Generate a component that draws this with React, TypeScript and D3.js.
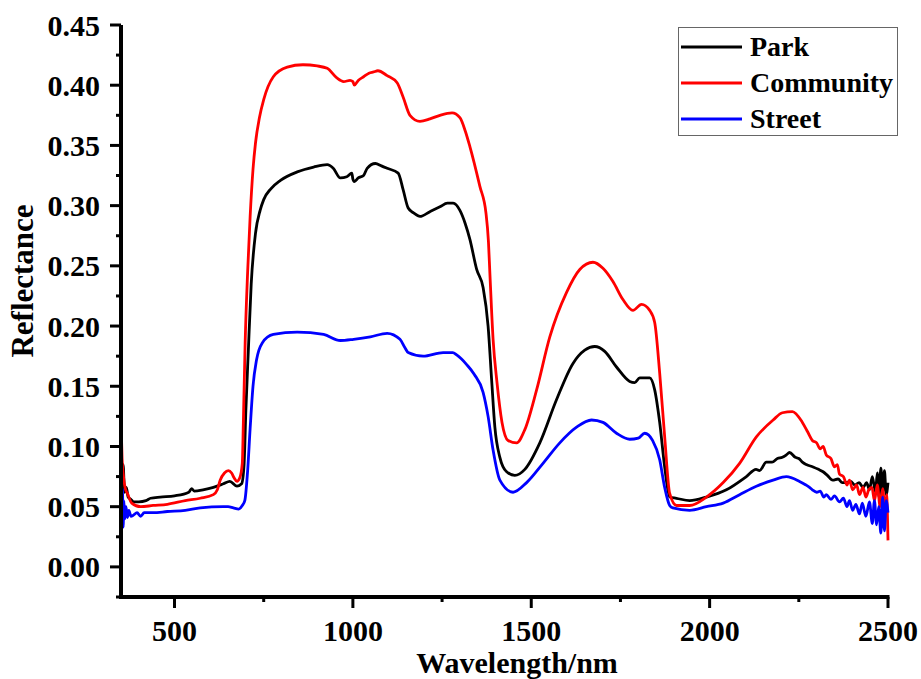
import React from "react";
import * as d3 from "d3";

const xTicks = [500, 1000, 1500, 2000, 2500];
const xMinorTicks = [750, 1250, 1750, 2250];
const yTicks = [0, 0.05, 0.1, 0.15, 0.2, 0.25, 0.3, 0.35, 0.4, 0.45];
const yMinorTicks = [-0.025, 0.025, 0.075, 0.125, 0.175, 0.225, 0.275, 0.325, 0.375, 0.425];

const seriesNames = ["Park", "Community", "Street"];
const seriesColors = ["#000000", "#ff0000", "#0000ff"];

const park: [number, number][] = [
  [350, 0.092], [353, 0.07], [356, 0.085], [360, 0.062], [365, 0.066], [370, 0.058], [378, 0.056], [385, 0.054],
  [400, 0.054], [420, 0.055], [433, 0.057], [460, 0.058], [500, 0.059], [540, 0.062], [548, 0.065], [555, 0.063],
  [580, 0.064], [609, 0.066], [637, 0.069], [655, 0.071], [675, 0.067], [688, 0.069], [695, 0.085], [700, 0.13],
  [707, 0.18], [715, 0.235], [727, 0.277], [740, 0.296], [750, 0.305], [770, 0.314], [797, 0.321], [844, 0.328],
  [890, 0.332], [928, 0.334], [945, 0.331], [965, 0.323], [983, 0.324], [997, 0.327], [1000, 0.322], [1004, 0.32],
  [1015, 0.323], [1030, 0.325], [1040, 0.331], [1063, 0.335], [1080, 0.333], [1096, 0.331], [1127, 0.327],
  [1141, 0.313], [1155, 0.298], [1170, 0.294], [1188, 0.291], [1216, 0.295], [1244, 0.299], [1265, 0.302],
  [1281, 0.302], [1300, 0.296], [1315, 0.285], [1328, 0.272], [1347, 0.247], [1365, 0.232], [1379, 0.2],
  [1389, 0.155], [1398, 0.116], [1412, 0.091], [1431, 0.079], [1454, 0.076], [1482, 0.081], [1524, 0.103],
  [1571, 0.139], [1617, 0.169], [1650, 0.18], [1678, 0.183], [1706, 0.179], [1739, 0.166], [1776, 0.154],
  [1790, 0.153], [1804, 0.157], [1832, 0.157], [1846, 0.147], [1860, 0.12], [1874, 0.083], [1888, 0.058],
  [1907, 0.057], [1944, 0.055], [1991, 0.058], [2047, 0.064], [2103, 0.075], [2130, 0.081], [2140, 0.08],
  [2159, 0.087], [2175, 0.087], [2190, 0.09], [2204, 0.091], [2215, 0.093], [2224, 0.095], [2240, 0.091],
  [2250, 0.09], [2260, 0.087], [2271, 0.085], [2290, 0.083], [2305, 0.081], [2318, 0.079], [2330, 0.076],
  [2345, 0.072], [2360, 0.073], [2372, 0.07], [2383, 0.07], [2395, 0.071], [2407, 0.068], [2419, 0.07],
  [2430, 0.066], [2440, 0.07], [2448, 0.064], [2456, 0.075], [2465, 0.062], [2470, 0.078], [2475, 0.058],
  [2480, 0.082], [2485, 0.062], [2490, 0.08], [2495, 0.06], [2500, 0.07],
];

const community: [number, number][] = [
  [350, 0.122], [353, 0.09], [357, 0.075], [362, 0.065], [368, 0.061], [380, 0.053], [405, 0.05], [440, 0.051],
  [480, 0.052], [530, 0.055], [572, 0.057], [609, 0.06], [620, 0.064], [628, 0.072], [640, 0.078], [651, 0.08],
  [660, 0.078], [667, 0.074], [675, 0.071], [683, 0.074], [690, 0.086], [693, 0.12], [698, 0.186], [705, 0.245],
  [712, 0.291], [720, 0.33], [727, 0.352], [738, 0.373], [750, 0.388], [777, 0.407], [816, 0.415], [860, 0.417],
  [900, 0.416], [928, 0.414], [955, 0.406], [974, 0.403], [992, 0.404], [1000, 0.403], [1004, 0.4], [1015, 0.404],
  [1030, 0.407], [1045, 0.41], [1058, 0.411], [1070, 0.412], [1096, 0.408], [1124, 0.402], [1141, 0.39],
  [1160, 0.375], [1188, 0.37], [1216, 0.372], [1244, 0.375], [1278, 0.377], [1300, 0.373], [1315, 0.362],
  [1328, 0.349], [1356, 0.316], [1373, 0.294], [1380, 0.27], [1384, 0.244], [1393, 0.189], [1404, 0.153],
  [1418, 0.12], [1435, 0.105], [1459, 0.103], [1482, 0.114], [1515, 0.147], [1552, 0.191], [1599, 0.228],
  [1636, 0.247], [1673, 0.253], [1701, 0.248], [1729, 0.237], [1757, 0.222], [1785, 0.213], [1809, 0.218],
  [1832, 0.213], [1846, 0.203], [1860, 0.161], [1874, 0.108], [1888, 0.061], [1907, 0.051], [1944, 0.051],
  [1991, 0.058], [2038, 0.07], [2084, 0.086], [2131, 0.108], [2178, 0.122], [2204, 0.128], [2232, 0.129],
  [2260, 0.12], [2275, 0.112], [2288, 0.105], [2300, 0.103], [2310, 0.098], [2318, 0.1], [2327, 0.093],
  [2340, 0.09], [2350, 0.083], [2358, 0.085], [2364, 0.077], [2375, 0.075], [2385, 0.068], [2392, 0.072],
  [2401, 0.064], [2412, 0.068], [2420, 0.06], [2430, 0.066], [2438, 0.058], [2446, 0.064], [2455, 0.066],
  [2462, 0.055], [2470, 0.068], [2478, 0.05], [2485, 0.065], [2492, 0.045], [2496, 0.06], [2500, 0.022],
];

const street: [number, number][] = [
  [350, 0.08], [352, 0.045], [354, 0.065], [356, 0.033], [358, 0.055], [361, 0.04], [364, 0.05], [368, 0.041],
  [372, 0.047], [378, 0.042], [385, 0.043], [395, 0.045], [405, 0.042], [415, 0.045], [440, 0.045], [480, 0.046],
  [530, 0.047], [572, 0.049], [637, 0.05], [650, 0.05], [665, 0.049], [680, 0.048], [690, 0.051], [697, 0.055],
  [705, 0.08], [712, 0.115], [720, 0.15], [730, 0.172], [746, 0.186], [777, 0.193], [844, 0.195], [918, 0.193],
  [965, 0.188], [1002, 0.189], [1049, 0.191], [1096, 0.194], [1132, 0.189], [1146, 0.182], [1155, 0.178],
  [1197, 0.175], [1253, 0.178], [1280, 0.178], [1291, 0.176], [1319, 0.168], [1340, 0.16], [1365, 0.145],
  [1379, 0.125], [1393, 0.097], [1412, 0.072], [1449, 0.062], [1487, 0.07], [1533, 0.086], [1580, 0.103],
  [1627, 0.116], [1669, 0.122], [1701, 0.12], [1739, 0.111], [1776, 0.106], [1800, 0.107], [1818, 0.111],
  [1840, 0.105], [1860, 0.089], [1874, 0.066], [1888, 0.051], [1897, 0.049], [1944, 0.047], [1991, 0.05],
  [2038, 0.053], [2084, 0.06], [2131, 0.067], [2178, 0.072], [2215, 0.075], [2252, 0.071], [2270, 0.068],
  [2280, 0.066], [2288, 0.064], [2300, 0.062], [2310, 0.063], [2320, 0.058], [2327, 0.06], [2340, 0.056],
  [2350, 0.059], [2364, 0.054], [2375, 0.057], [2385, 0.05], [2392, 0.055], [2401, 0.047], [2410, 0.052],
  [2420, 0.044], [2428, 0.053], [2438, 0.042], [2448, 0.054], [2456, 0.036], [2462, 0.055], [2468, 0.035],
  [2474, 0.05], [2480, 0.028], [2485, 0.058], [2490, 0.03], [2495, 0.055], [2500, 0.045],
];

const seriesData = [park, community, street];

const W = 921;
const H = 679;
const FONT = "'Liberation Serif', 'Times New Roman', serif";

export default function App() {
  const x = d3.scaleLinear().domain([350, 2500]).range([121, 888]);
  const y = d3.scaleLinear().domain([-0.025, 0.45]).range([597, 25]);
  const line = d3
    .line<[number, number]>()
    .x((d) => x(d[0]))
    .y((d) => y(d[1]))
    .curve(d3.curveMonotoneX);

  const x0 = x.range()[0];
  const y0 = y.range()[0];

  return (
    <svg
      width={W}
      height={H}
      style={{ position: "absolute", left: 0, top: 0, background: "#fff" }}
      fontFamily={FONT}
      fontWeight="bold"
    >
      <rect width={W} height={H} fill="#fff" />
      {seriesData.map((s, i) => (
        <path key={i} d={line(s) || ""} fill="none" stroke={seriesColors[i]} strokeWidth={2.8} strokeLinejoin="round" />
      ))}

      {/* Y axis */}
      <line x1={x0} x2={x0} y1={y(0.45)} y2={y0 + 2} stroke="#000" strokeWidth={4} />
      {yTicks.map((t) => (
        <g key={"yt" + t}>
          <line x1={x0 - 11} x2={x0} y1={y(t)} y2={y(t)} stroke="#000" strokeWidth={3} />
          <text x={100} y={y(t) + 10.5} textAnchor="end" fontSize={30}>
            {t.toFixed(2)}
          </text>
        </g>
      ))}
      {yMinorTicks.map((t) => (
        <line key={"ym" + t} x1={x0 - 5} x2={x0} y1={y(t)} y2={y(t)} stroke="#000" strokeWidth={3} />
      ))}

      {/* X axis */}
      <line x1={x0 - 2} x2={x(2500) + 1.5} y1={y0} y2={y0} stroke="#000" strokeWidth={4} />
      {xTicks.map((t) => (
        <g key={"xt" + t}>
          <line x1={x(t)} x2={x(t)} y1={y0} y2={y0 + 11} stroke="#000" strokeWidth={3} />
          <text x={x(t)} y={641} textAnchor="middle" fontSize={30}>
            {t}
          </text>
        </g>
      ))}
      {xMinorTicks.map((t) => (
        <line key={"xm" + t} x1={x(t)} x2={x(t)} y1={y0} y2={y0 + 5} stroke="#000" strokeWidth={3} />
      ))}

      <text x={517} y={673} textAnchor="middle" fontSize={30}>
        Wavelength/nm
      </text>
      <text transform="translate(33,281) rotate(-90)" textAnchor="middle" fontSize={31}>
        Reflectance
      </text>

      {/* Legend */}
      <rect x={678.5} y={27.5} width={219} height={108} fill="#fff" stroke="#666" strokeWidth={1} />
      {seriesNames.map((n, i) => (
        <g key={n}>
          <line x1={681} x2={742} y1={47 + i * 36} y2={47 + i * 36} stroke={seriesColors[i]} strokeWidth={2.8} />
          <text x={750} y={56 + i * 36} fontSize={28}>
            {n}
          </text>
        </g>
      ))}
    </svg>
  );
}
